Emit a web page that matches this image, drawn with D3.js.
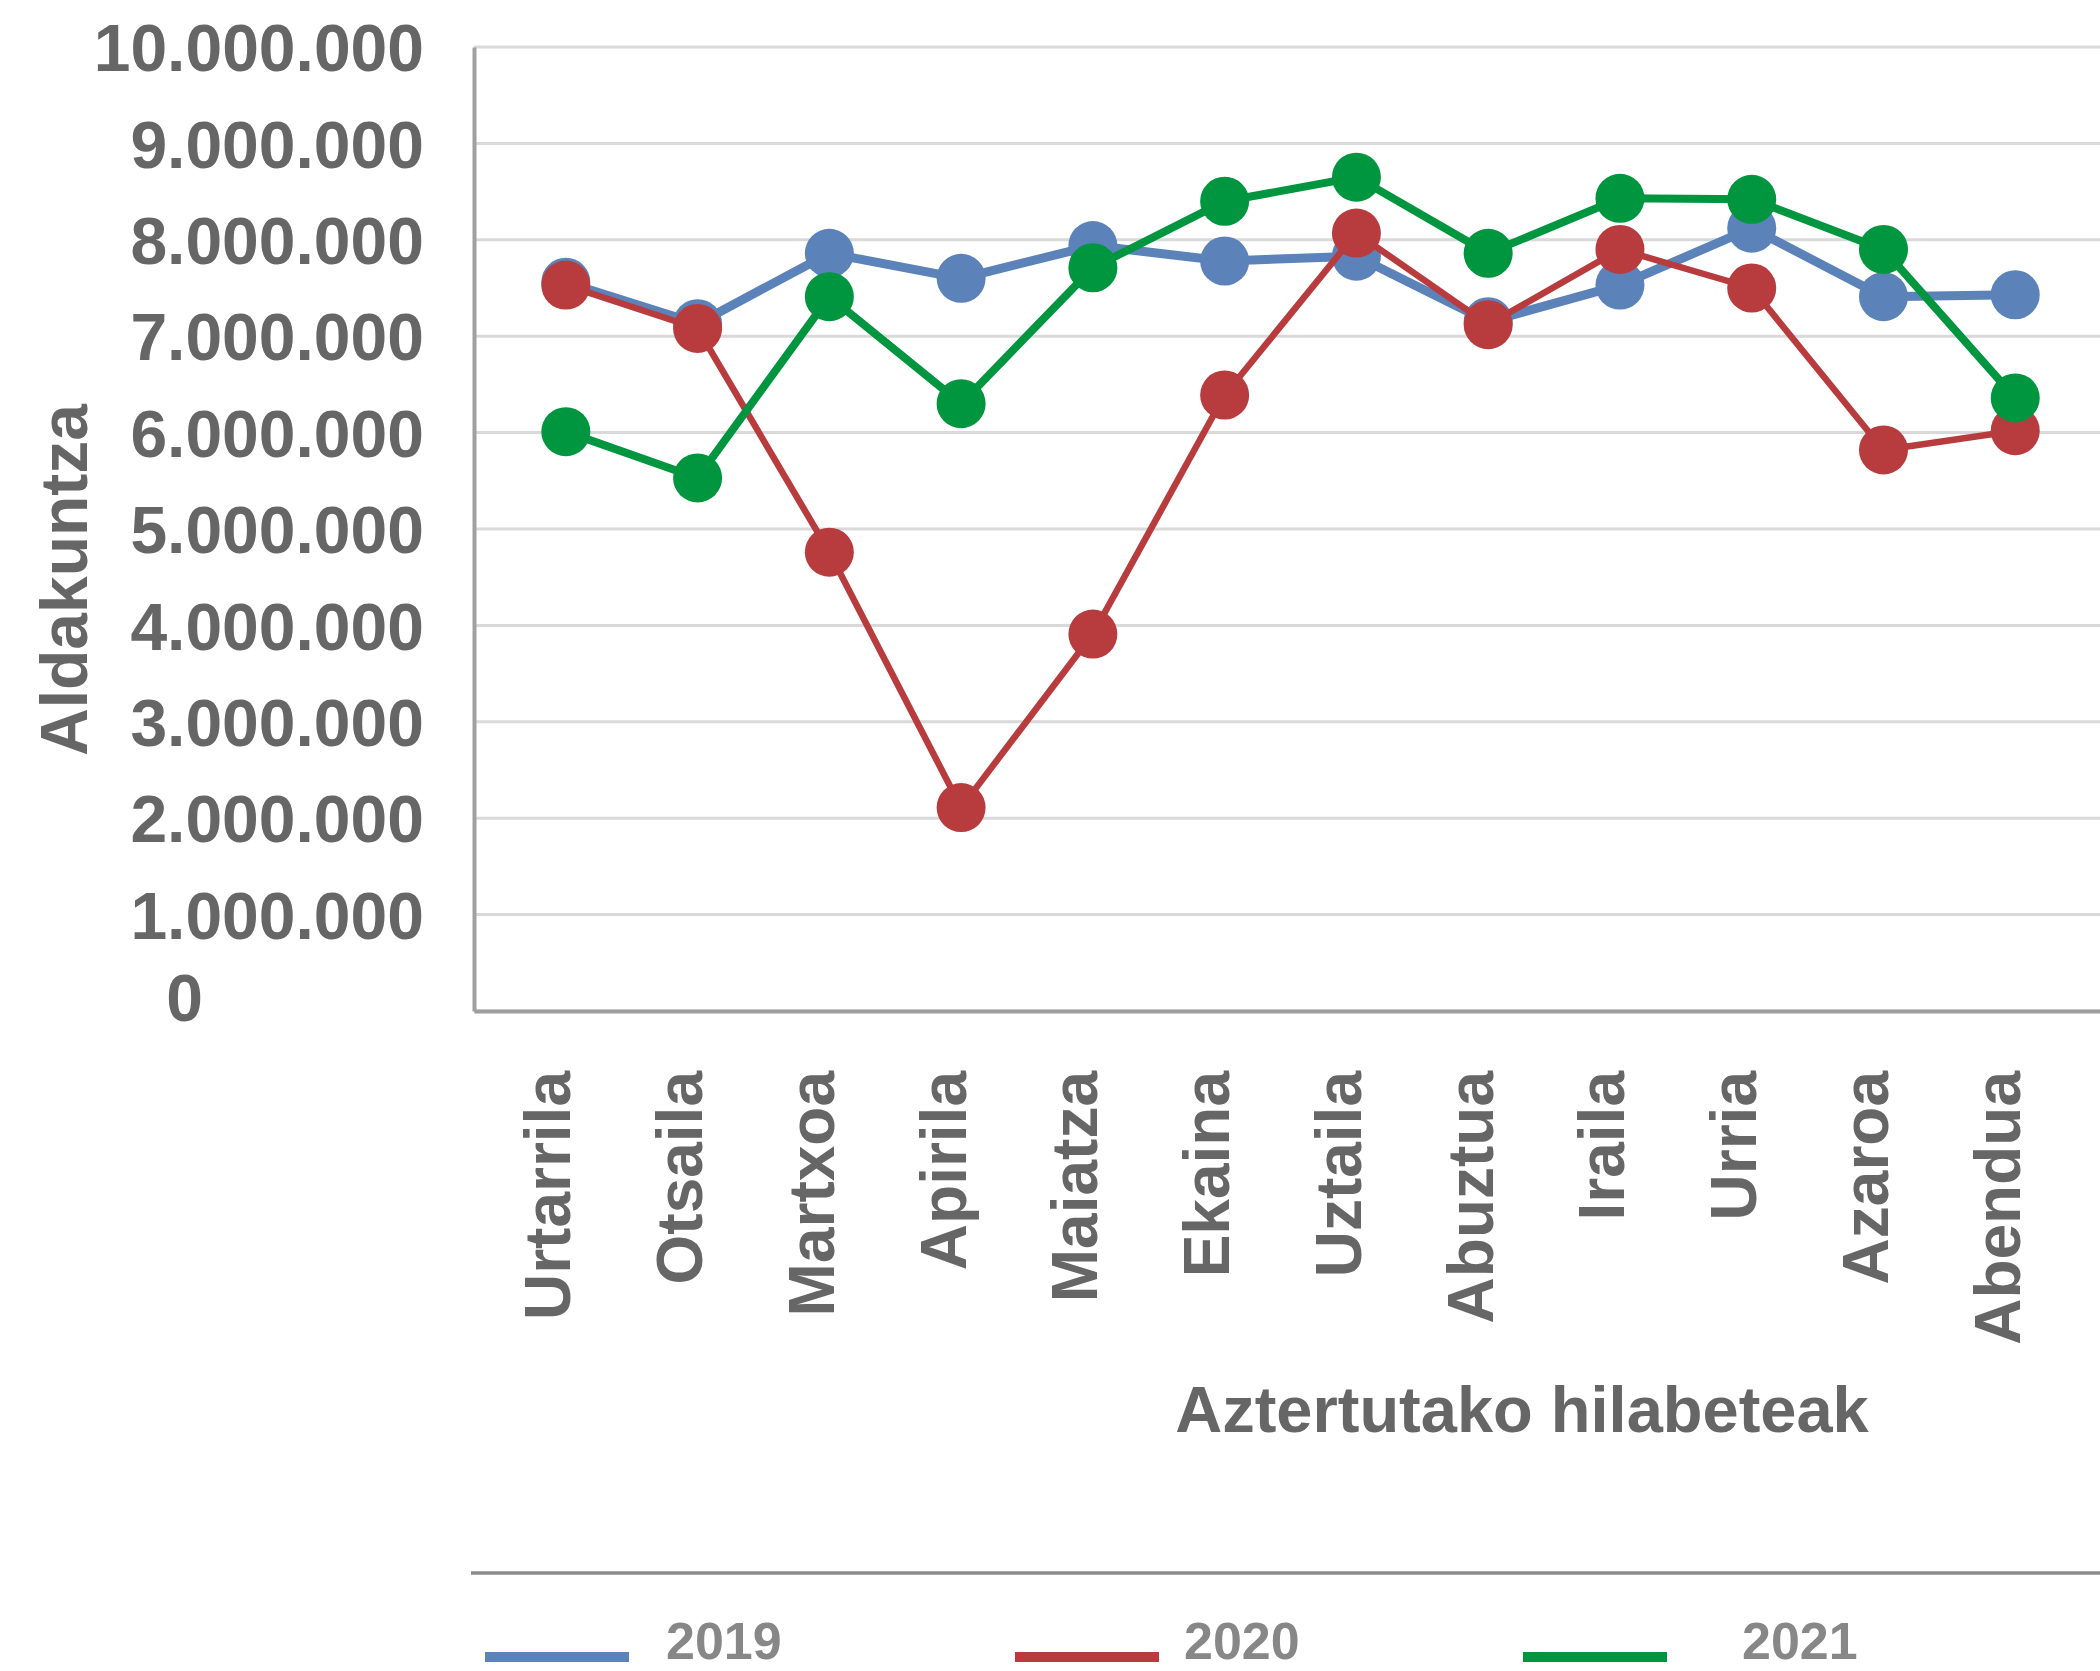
<!DOCTYPE html>
<html>
<head>
<meta charset="utf-8">
<script src="https://cdn.jsdelivr.net/npm/d3@7"></script>
<style>
body{margin:0;background:#fff}
svg{display:block;font-family:"Liberation Sans",Arial,Helvetica,sans-serif;font-weight:bold}
</style>
</head>
<body>
<svg></svg>
<script>
// months (x axis categories)
var months = ["Urtarrila","Otsaila","Martxoa","Apirila","Maiatza","Ekaina",
              "Uztaila","Abuztua","Iraila","Urria","Azaroa","Abendua"];
// series names
var years = ["2019","2020","2021"];
// monthly values
var values2019 = [7560000,7130000,7860000,7600000,7940000,7780000,7830000,7150000,7530000,8120000,7410000,7430000];
var values2020 = [7530000,7080000,4760000,2110000,3910000,6390000,8070000,7120000,7900000,7500000,5820000,6020000];
var values2021 = [6010000,5530000,7410000,6300000,7710000,8400000,8650000,7860000,8430000,8420000,7900000,6360000];
// y tick values
var yTicks = [0,1000000,2000000,3000000,4000000,5000000,6000000,7000000,8000000,9000000,10000000];

var yTitle = "Aldakuntza";
var xTitle = "Aztertutako hilabeteak";

// styles per series
var seriesStyle = {
    "2019":{color:"#5b83ba",width:9},
    "2020":{color:"#b83c3e",width:6.5},
    "2021":{color:"#00953f",width:8}
};

var fmt = d3.formatLocale({decimal:",",thousands:".",grouping:[3],currency:["","€"]}).format(",d");

var drawChart = function()
{
    var screen = {width:2100,height:1671};
    var margins = {left:474,right:0,top:47,bottom:660};
    var graph = {
        width:screen.width-margins.left-margins.right,
        height:screen.height-margins.top-margins.bottom
    };

    var svg = d3.select("svg")
        .attr("width",screen.width)
        .attr("height",screen.height);

    var xScale = d3.scalePoint()
        .domain(months)
        .range([0,graph.width])
        .padding(0.67)
        .align(0.52);

    var yScale = d3.scaleLinear()
        .domain([0,10000000])
        .range([graph.height,0]);

    var target = svg.append("g")
        .attr("transform","translate("+margins.left+","+margins.top+")");

    // gridlines
    target.append("g")
        .selectAll("line")
        .data(yTicks)
        .enter()
        .append("line")
        .attr("x1",0)
        .attr("x2",graph.width)
        .attr("y1",function(d){return yScale(d)})
        .attr("y2",function(d){return yScale(d)})
        .attr("stroke","#d9d9d9")
        .attr("stroke-width",3);

    // y axis
    var yAxis = target.append("g")
        .call(d3.axisLeft(yScale).tickValues(yTicks).tickFormat(fmt).tickSize(0).tickPadding(50));
    yAxis.select(".domain").attr("stroke","#a0a0a0").attr("stroke-width",4);
    yAxis.selectAll("text")
        .attr("fill","#666666")
        .attr("font-size",66)
        .attr("font-family",null)
        .attr("dy","0.36em");
    yAxis.selectAll(".tick text")
        .filter(function(d){return d===0})
        .attr("x",-271)
        .attr("dy","0.14em");

    // x axis
    var xAxis = target.append("g")
        .attr("transform","translate(0,"+graph.height+")")
        .call(d3.axisBottom(xScale).tickSize(0).tickSizeOuter(0));
    xAxis.select(".domain").attr("stroke","#9e9e9e").attr("stroke-width",4);
    xAxis.selectAll("text")
        .attr("fill","#666666")
        .attr("font-size",64)
        .attr("font-family",null)
        .attr("x",0)
        .attr("y",0)
        .attr("dy",4)
        .attr("text-anchor","end")
        .attr("transform","translate(0,60) rotate(-90)");

    // series
    var seriesData = [values2019,values2020,values2021];
    var line = d3.line()
        .x(function(d,i){return xScale(months[i])})
        .y(function(d){return yScale(d)});

    years.forEach(function(year,k)
    {
        var st = seriesStyle[year];
        var g = target.append("g").classed("series",true);
        g.append("path")
            .datum(seriesData[k])
            .attr("d",line)
            .attr("fill","none")
            .attr("stroke",st.color)
            .attr("stroke-width",st.width)
            .attr("stroke-linejoin","round");
        g.selectAll("circle")
            .data(seriesData[k])
            .enter()
            .append("circle")
            .attr("cx",function(d,i){return xScale(months[i])})
            .attr("cy",function(d){return yScale(d)})
            .attr("r",24.5)
            .attr("fill",st.color);
    });

    // labels
    svg.append("text")
        .text(yTitle)
        .attr("fill","#666666")
        .attr("font-size",66)
        .attr("text-anchor","middle")
        .attr("transform","translate(87,580) rotate(-90)");

    svg.append("text")
        .text(xTitle)
        .attr("fill","#666666")
        .attr("font-size",65)
        .attr("text-anchor","middle")
        .attr("x",1522)
        .attr("y",1432);

    // separator above legend
    svg.append("line")
        .attr("x1",471).attr("x2",screen.width)
        .attr("y1",1573).attr("y2",1573)
        .attr("stroke","#8c8c8c")
        .attr("stroke-width",3.5);

    // legend
    var legendX = [485,1015,1523];
    var legendTextX = [181,169,219];
    var legend = svg.append("g")
        .attr("transform","translate(0,1657)");
    var entries = legend.selectAll("g")
        .data(years)
        .enter()
        .append("g")
        .attr("transform",function(d,i){return "translate("+legendX[i]+",0)"});
    entries.append("line")
        .attr("x1",0).attr("x2",144)
        .attr("y1",0).attr("y2",0)
        .attr("stroke",function(d){return seriesStyle[d].color})
        .attr("stroke-width",10);
    entries.append("text")
        .text(function(d){return d})
        .attr("x",function(d,i){return legendTextX[i]})
        .attr("y",2)
        .attr("fill","#878787")
        .attr("font-size",52);
};

drawChart();
</script>
</body>
</html>
